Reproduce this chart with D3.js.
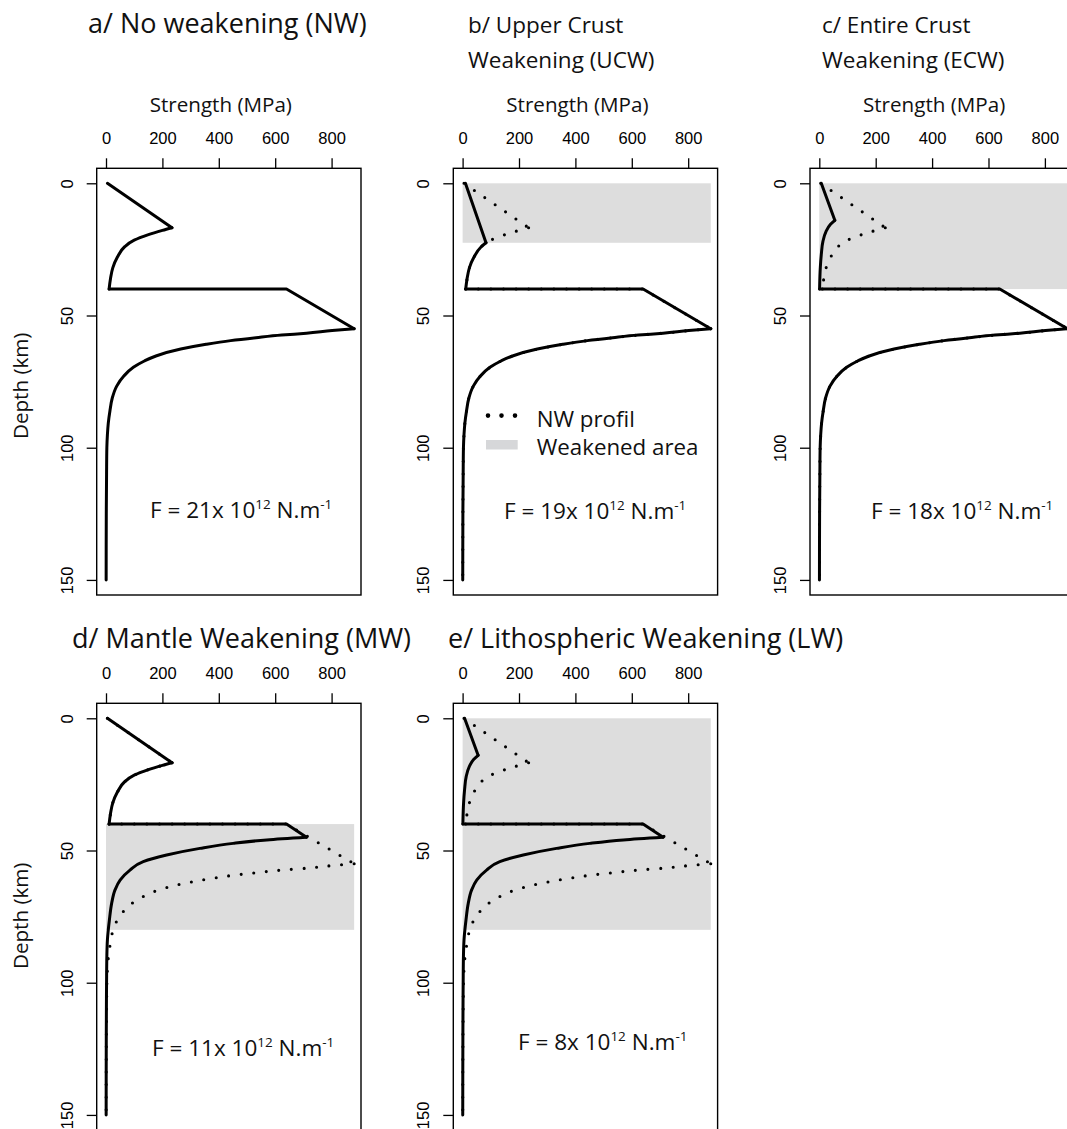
<!DOCTYPE html>
<html>
<head>
<meta charset="utf-8">
<script src="https://cdn.jsdelivr.net/npm/d3@7"></script>
<style>
  html, body { margin: 0; padding: 0; background: #fff; }
  svg { display: block; }
</style>
</head>
<body>
<div id="chart"></div>
<script>
// ---------------- DATA ----------------
const strengthTicks = [0, 200, 400, 600, 800];
const depthTicks = [0, 50, 100, 150];

const panelTitles = [
  ["a/ No weakening (NW)"],
  ["b/ Upper Crust", "Weakening (UCW)"],
  ["c/ Entire Crust", "Weakening (ECW)"],
  ["d/ Mantle Weakening (MW)"],
  ["e/ Lithospheric Weakening (LW)"]
];
const forceValues = [21, 19, 18, 11, 8];        // x 10^12 N.m^-1
const weakenedZones = [null, [0, 22.5], [0, 40], [40, 80], [0, 80]]; // depth km
const weakenedStrengthMax = 880;

// [strength MPa, depth km]
const nwBrittleCrust = [[5, 0], [234, 16.8]];
const nwDuctileCrust = [[234, 16.8], [200, 17.8], [148, 19.5], [100, 21.5], [66, 24], [40, 28], [24, 32], [16, 36], [11, 40]];
const nwMohoBrittleMantle = [[11, 40], [640, 40], [880, 55]];
const nwDuctileMantle = [[880, 55], [802, 55.7], [711, 56.7], [623, 57.4], [532, 58.4], [442, 59.5], [355, 60.9], [265, 62.7], [177, 65.3], [136, 67.2], [97, 69.6], [64, 72.8], [38, 76.7], [22, 81.3], [14, 86], [8, 90.8], [5, 95], [3, 100], [2, 110], [1, 125], [0.5, 150]];

const ucwBrittleCrust = [[10, 0], [83, 22.5]];
const ucwDuctileCrust = [[83, 22.5], [66, 24], [40, 28], [24, 32], [16, 36], [11, 40]];

const ecwBrittleCrust = [[7, 0], [55, 14]];
const ecwDuctileCrust = [[55, 14], [39, 15.6], [24, 18.2], [13, 21.9], [7, 27], [3.5, 32], [1.4, 38], [1, 40]];
const ecwMohoBrittleMantle = [[1, 40], [640, 40], [880, 55]];

const mwMohoFromNW = [[11, 40], [640, 40], [711, 45]];
const mwMohoFromECW = [[1, 40], [640, 40], [711, 45]];
const mwDuctileMantle = [[711, 45], [570, 46], [451, 47.3], [333, 49.2], [215, 51.7], [132, 54.2], [85, 57.4], [50, 61.2], [32, 64.9], [20, 70], [12, 76.3], [5, 83.8], [3, 90], [2, 100], [1, 120], [0.5, 150]];

// profiles: list of [points, smooth]
const nwProfile = [[nwBrittleCrust, false], [nwDuctileCrust, true], [nwMohoBrittleMantle, false], [nwDuctileMantle, true]];
const ucwProfile = [[ucwBrittleCrust, false], [ucwDuctileCrust, true], [nwMohoBrittleMantle, false], [nwDuctileMantle, true]];
const ecwProfile = [[ecwBrittleCrust, false], [ecwDuctileCrust, true], [ecwMohoBrittleMantle, false], [nwDuctileMantle, true]];
const mwProfile = [[nwBrittleCrust, false], [nwDuctileCrust, true], [mwMohoFromNW, false], [mwDuctileMantle, true]];
const lwProfile = [[ecwBrittleCrust, false], [ecwDuctileCrust, true], [mwMohoFromECW, false], [mwDuctileMantle, true]];
const panelProfiles = [nwProfile, ucwProfile, ecwProfile, mwProfile, lwProfile];

const legendLabels = ["NW profil", "Weakened area"];

// ---------------- LAYOUT ----------------
const W = 1067, H = 1129;
const boxW = 264.3, boxH = 426.7;
const layout = [
  { left: 96.7, top: 168.3, titleX: 88, titleY: 33, titleSize: 27, strengthLabel: true, depthLabel: 385.8, fX: 150, fY: 517.7, dotted: false, legend: false },
  { left: 453.3, top: 168.3, titleX: 468, titleY: 33, titleSize: 22.5, strengthLabel: true, depthLabel: null, fX: 504, fY: 519, dotted: true, legend: true },
  { left: 810, top: 168.3, titleX: 822, titleY: 33, titleSize: 22.5, strengthLabel: true, depthLabel: null, fX: 871, fY: 519, dotted: true, legend: false },
  { left: 96.7, top: 703.3, titleX: 72, titleY: 647.7, titleSize: 27, strengthLabel: false, depthLabel: 915.8, fX: 152, fY: 1056, dotted: true, legend: false },
  { left: 453.3, top: 703.3, titleX: 448, titleY: 647.7, titleSize: 27, strengthLabel: false, depthLabel: null, fX: 518, fY: 1050, dotted: true, legend: false }
];

const sansFont = "'Open Sans', 'Noto Sans', sans-serif";
const tickFont = "'Liberation Sans', Arial, sans-serif";
const grey = "#dddddd";

const svg = d3.select("#chart").append("svg")
  .attr("width", W).attr("height", H)
  .attr("viewBox", `0 0 ${W} ${H}`);

const xDomain = [-33, 904.3];
const yDomain = [-5.67, 155.7];

layout.forEach((L, i) => {
  const x = d3.scaleLinear().domain(xDomain).range([L.left, L.left + boxW]);
  const y = d3.scaleLinear().domain(yDomain).range([L.top, L.top + boxH]);

  // title
  const title = svg.append("text")
    .attr("x", L.titleX).attr("y", L.titleY)
    .attr("font-family", sansFont).attr("font-size", L.titleSize).attr("fill", "#111");
  panelTitles[i].forEach((line, k) => {
    title.append("tspan").attr("x", L.titleX).attr("y", L.titleY + k * 34.5).text(line);
  });

  // weakened area
  const zone = weakenedZones[i];
  if (zone) {
    svg.append("rect")
      .attr("x", x(0)).attr("y", y(zone[0]))
      .attr("width", x(weakenedStrengthMax) - x(0))
      .attr("height", y(zone[1]) - y(zone[0]))
      .attr("fill", grey);
  }

  // frame
  svg.append("rect")
    .attr("x", L.left).attr("y", L.top)
    .attr("width", boxW).attr("height", boxH)
    .attr("fill", "none").attr("stroke", "#000").attr("stroke-width", 1.4);

  // x axis (top)
  const gx = svg.append("g").attr("transform", `translate(0,${L.top})`)
    .call(d3.axisTop(x).tickValues(strengthTicks).tickSize(10).tickPadding(14.3).tickSizeOuter(0));
  gx.select(".domain").remove();
  gx.selectAll(".tick line").attr("stroke", "#000").attr("stroke-width", 1.3);
  gx.selectAll(".tick text").attr("font-family", tickFont).attr("font-size", 16.5).attr("fill", "#000");

  // y axis (left)
  const gy = svg.append("g").attr("transform", `translate(${L.left},0)`)
    .call(d3.axisLeft(y).tickValues(depthTicks).tickSize(10).tickSizeOuter(0));
  gy.select(".domain").remove();
  gy.selectAll(".tick line").attr("stroke", "#000").attr("stroke-width", 1.3);
  gy.selectAll(".tick text")
    .attr("font-family", tickFont).attr("font-size", 16.5).attr("fill", "#000")
    .attr("transform", "rotate(-90)")
    .attr("x", 0).attr("y", -24.2).attr("dy", 0)
    .attr("text-anchor", "middle");

  // axis labels
  if (L.strengthLabel) {
    svg.append("text")
      .attr("x", x(400) + 2).attr("y", 111.5)
      .attr("text-anchor", "middle")
      .attr("font-family", sansFont).attr("font-size", 20.6).attr("fill", "#111")
      .text("Strength (MPa)");
  }
  if (L.depthLabel !== null) {
    svg.append("text")
      .attr("transform", `translate(28,${L.depthLabel}) rotate(-90)`)
      .attr("text-anchor", "middle")
      .attr("font-family", sansFont).attr("font-size", 20.6).attr("fill", "#111")
      .text("Depth (km)");
  }

  const lineLin = d3.line().x(d => x(d[0])).y(d => y(d[1])).curve(d3.curveLinear);
  const lineSmooth = d3.line().x(d => x(d[0])).y(d => y(d[1])).curve(d3.curveMonotoneY);

  // dotted NW reference profile
  if (L.dotted) {
    nwProfile.forEach(([pts, smooth]) => {
      svg.append("path")
        .attr("d", (smooth ? lineSmooth : lineLin)(pts))
        .attr("fill", "none").attr("stroke", "#000")
        .attr("stroke-width", 3.1).attr("stroke-linecap", "round")
        .attr("stroke-dasharray", "0,12.6");
    });
  }

  // solid profile
  panelProfiles[i].forEach(([pts, smooth]) => {
    svg.append("path")
      .attr("d", (smooth ? lineSmooth : lineLin)(pts))
      .attr("fill", "none").attr("stroke", "#000")
      .attr("stroke-width", 3).attr("stroke-linecap", "round").attr("stroke-linejoin", "round");
  });

  // force text
  const ft = svg.append("text")
    .attr("x", L.fX).attr("y", L.fY)
    .attr("font-family", sansFont).attr("font-size", 22.5).attr("fill", "#111");
  ft.append("tspan").text(`F = ${forceValues[i]}x 10`);
  ft.append("tspan").attr("dy", -9).attr("font-size", 13.5).text("12");
  ft.append("tspan").attr("dy", 9).text(" N.m");
  ft.append("tspan").attr("dy", -9).attr("font-size", 13.5).text("-1");

  // legend
  if (L.legend) {
    svg.append("path")
      .attr("d", `M488,415.6 L515.3,415.6`)
      .attr("stroke", "#000").attr("stroke-width", 4.6)
      .attr("stroke-linecap", "round").attr("stroke-dasharray", "0,13.5");
    svg.append("rect")
      .attr("x", 486).attr("y", 440).attr("width", 31.7).attr("height", 9.5)
      .attr("fill", "#d6d7d9");
    svg.append("text").attr("x", 536.7).attr("y", 427)
      .attr("font-family", sansFont).attr("font-size", 22.3).attr("fill", "#111")
      .text(legendLabels[0]);
    svg.append("text").attr("x", 536.7).attr("y", 455)
      .attr("font-family", sansFont).attr("font-size", 22.3).attr("fill", "#111")
      .text(legendLabels[1]);
  }
});
</script>
</body>
</html>
